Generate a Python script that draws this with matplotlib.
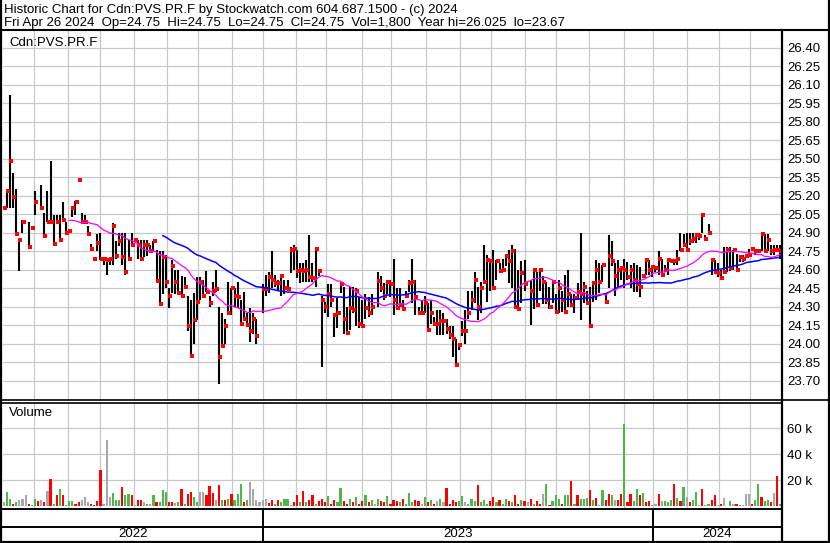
import numpy as np
import pandas as pd
import matplotlib
matplotlib.use("Agg")
import matplotlib.pyplot as plt
from matplotlib.lines import Line2D

plt.rcParams['font.family'] = ['Liberation Sans', 'DejaVu Sans']

# ---------------- data ----------------
HEADER1 = "Historic Chart for Cdn:PVS.PR.F by Stockwatch.com 604.687.1500 - (c) 2024"
HEADER2 = "Fri Apr 26 2024  Op=24.75  Hi=24.75  Lo=24.75  Cl=24.75  Vol=1,800  Year hi=26.025  lo=23.67"
symbol = "Cdn:PVS.PR.F"
volume_title = "Volume"
price_ticks = [23.70, 23.85, 24.00, 24.15, 24.30, 24.45, 24.60, 24.75, 24.90, 25.05,
               25.20, 25.35, 25.50, 25.65, 25.80, 25.95, 26.10, 26.25, 26.40]
vol_ticks = [20, 40, 60]
vol_tick_labels = ["20 k", "40 k", "60 k"]
start_date, end_date = "2022-05-03", "2024-04-26"
holidays = ["2022-05-23", "2022-07-01", "2022-08-01", "2022-09-05", "2022-10-10", "2022-12-26",
            "2022-12-27", "2023-01-02", "2023-02-20", "2023-04-07", "2023-05-22", "2023-07-03",
            "2023-08-07", "2023-09-04", "2023-10-09", "2023-12-25", "2023-12-26", "2024-01-01",
            "2024-02-19", "2024-03-29"]
nan = float('nan')

# one bar per two trading days (high, low, close)
high = [25.12, 25.24, 26.02, 25.38, 25.25, 24.84, 25.00, nan, 24.99, 24.95,
        25.24, nan, 25.29, 25.06, 25.24, 25.48, 25.04, 25.04, 25.04, 25.15,
        24.99, 24.92, 25.12, 25.16, 25.33, 25.06, 25.04, 24.95, 24.81, 24.70,
        24.89, 24.90, 24.69, 24.68, 24.69, 24.98, 24.83, 24.90, 24.90, 24.90,
        24.84, 24.90, 24.85, 24.84, 24.84, 24.84, 24.84, 24.80, 24.83, 24.76,
        24.75, 24.75, 24.72, 24.45, 24.68, 24.60, 24.60, 24.55, 24.54, 24.39,
        24.35, 24.41, 24.54, 24.54, 24.52, 24.59, 24.39, 24.50, 24.60, 24.30,
        24.25, 24.20, 24.50, 24.45, 24.45, 24.50, 24.35, 24.42, 24.25, 24.29,
        24.25, 24.20, nan, 24.48, 24.56, 24.58, 24.75, 24.56, 24.52, 24.55,
        24.52, 24.52, 24.78, 24.80, 24.76, 24.65, 24.65, 24.68, 24.88, 24.65,
        24.77, 24.60, 24.39, 24.34, 24.48, 24.48, 24.25, 24.37, 24.49, 24.46,
        24.30, 24.46, 24.46, 24.45, 24.38, 24.35, 24.40, 24.38, 24.40, nan,
        24.58, 24.55, 24.49, 24.50, 24.52, 24.69, 24.45, 24.45, 24.35, 24.43,
        24.52, 24.69, 24.52, 24.30, 24.35, 24.39, 24.33, 24.35, 24.22, 24.27,
        24.27, 24.25, 24.20, 24.14, 24.14, 24.04, 24.00, 24.18, 24.27, 24.43,
        24.43, 24.58, 24.46, 24.50, 24.80, 24.72, 24.68, 24.76, 24.68, 24.65,
        24.69, 24.71, 24.76, 24.80, 24.77, 24.60, 24.67, 24.68, nan, 24.52,
        24.60, 24.58, 24.60, 24.55, 24.50, 24.46, 24.50, 24.40, 24.52, 24.43,
        24.56, 24.60, 24.40, 24.40, 24.49, 24.90, 24.50, 24.43, 24.46, 24.50,
        24.68, 24.65, 24.64, 24.40, 24.88, 24.83, 24.65, 24.68, 24.62, 24.69,
        24.66, 24.64, 24.65, 24.64, 24.62, 24.56, 24.68, 24.68, 24.62, 24.62,
        24.75, 24.69, 24.64, 24.68, 24.68, 24.69, 24.76, 24.90, 24.89, 24.90,
        24.90, 24.90, 24.90, 24.90, 25.04, 24.88, 24.97, 24.69, 24.68, 24.65,
        24.60, 24.78, 24.78, 24.78, 24.76, 24.73, 24.72, 24.72, 24.72, 24.77,
        24.77, 24.77, 24.77, 24.90, 24.89, 24.89, 24.80, 24.80, 24.80, 24.80]
low = [25.10, 25.10, 25.10, 25.10, 24.89, 24.59, 24.90, nan, 24.78, 24.93,
       25.04, nan, 25.10, 24.87, 24.99, 24.99, 24.81, 24.99, 24.84, 24.99,
       24.90, 24.90, 25.03, 25.04, 25.33, 24.99, 24.99, 24.89, 24.77, 24.69,
       24.75, 24.68, 24.64, 24.56, 24.64, 24.64, 24.69, 24.79, 24.64, 24.56,
       24.69, 24.80, 24.83, 24.69, 24.69, 24.70, 24.71, 24.75, 24.75, 24.50,
       24.32, 24.40, 24.45, 24.29, 24.41, 24.40, 24.41, 24.39, 24.46, 24.10,
       23.90, 24.00, 24.19, 24.35, 24.39, 24.42, 24.30, 24.39, 24.42, 23.67,
       23.98, 24.00, 24.25, 24.23, 24.30, 24.29, 24.16, 24.20, 24.15, 24.01,
       24.08, 24.00, nan, 24.25, 24.39, 24.41, 24.45, 24.46, 24.43, 24.39,
       24.40, 24.44, 24.57, 24.60, 24.53, 24.49, 24.50, 24.50, 24.50, 24.50,
       24.46, 24.55, 23.81, 24.25, 24.22, 24.30, 24.05, 24.13, 24.41, 24.08,
       24.08, 24.11, 24.25, 24.14, 24.13, 24.14, 24.20, 24.22, 24.23, nan,
       24.30, 24.42, 24.35, 24.40, 24.38, 24.23, 24.29, 24.30, 24.28, 24.38,
       24.42, 24.33, 24.23, 24.23, 24.23, 24.25, 24.11, 24.16, 24.15, 24.07,
       24.07, 24.07, 24.08, 24.04, 23.89, 23.83, 23.95, 24.06, 24.00, 24.20,
       24.27, 24.33, 24.19, 24.25, 24.50, 24.34, 24.43, 24.45, 24.52, 24.58,
       24.60, 24.63, 24.49, 24.45, 24.29, 24.27, 24.33, 24.43, nan, 24.15,
       24.28, 24.30, 24.43, 24.32, 24.32, 24.28, 24.33, 24.25, 24.25, 24.26,
       24.26, 24.30, 24.30, 24.25, 24.35, 24.19, 24.33, 24.33, 24.14, 24.34,
       24.35, 24.41, 24.50, 24.34, 24.45, 24.63, 24.39, 24.45, 24.52, 24.45,
       24.52, 24.45, 24.42, 24.42, 24.38, 24.53, 24.56, 24.56, 24.54, 24.58,
       24.56, 24.55, 24.58, 24.56, 24.66, 24.64, 24.64, 24.75, 24.78, 24.76,
       24.80, 24.82, 24.82, 24.84, 24.90, 24.85, 24.88, 24.56, 24.57, 24.54,
       24.52, 24.57, 24.58, 24.59, 24.60, 24.60, 24.66, 24.66, 24.70, 24.70,
       24.76, 24.72, 24.74, 24.75, 24.75, 24.75, 24.72, 24.72, 24.75, 24.69]
close = [25.10, 25.24, 25.48, 25.19, 24.89, 24.84, 24.99, nan, 24.78, 24.94,
         25.15, nan, 25.10, 24.87, 24.99, 24.99, 24.81, 24.99, 24.84, 25.00,
         24.90, 24.91, 25.10, 25.15, 25.33, 24.99, 24.99, 24.89, 24.77, 24.69,
         24.82, 24.69, 24.69, 24.68, 24.69, 24.95, 24.71, 24.83, 24.70, 24.58,
         24.69, 24.80, 24.84, 24.80, 24.69, 24.80, 24.80, 24.75, 24.83, 24.51,
         24.32, 24.70, 24.50, 24.39, 24.63, 24.50, 24.41, 24.39, 24.46, 24.14,
         23.90, 24.19, 24.34, 24.50, 24.39, 24.42, 24.33, 24.43, 24.44, 23.89,
         23.98, 24.14, 24.25, 24.45, 24.39, 24.38, 24.16, 24.20, 24.15, 24.10,
         24.20, 24.06, nan, 24.44, 24.44, 24.54, 24.52, 24.49, 24.49, 24.55,
         24.45, 24.44, 24.76, 24.77, 24.59, 24.60, 24.59, 24.60, 24.54, 24.53,
         24.77, 24.59, 24.35, 24.30, 24.40, 24.35, 24.23, 24.25, 24.48, 24.20,
         24.09, 24.29, 24.27, 24.43, 24.16, 24.14, 24.29, 24.25, 24.30, nan,
         24.51, 24.45, 24.39, 24.50, 24.48, 24.35, 24.29, 24.31, 24.28, 24.39,
         24.49, 24.50, 24.38, 24.25, 24.25, 24.33, 24.11, 24.25, 24.16, 24.16,
         24.18, 24.18, 24.12, 24.07, 24.04, 23.83, 23.99, 24.10, 24.10, 24.25,
         24.35, 24.52, 24.30, 24.45, 24.50, 24.68, 24.67, 24.45, 24.67, 24.59,
         24.60, 24.71, 24.67, 24.75, 24.30, 24.28, 24.57, 24.48, nan, 24.43,
         24.60, 24.31, 24.60, 24.50, 24.35, 24.30, 24.50, 24.26, 24.45, 24.35,
         24.26, 24.40, 24.31, 24.37, 24.42, 24.40, 24.46, 24.33, 24.14, 24.49,
         24.60, 24.50, 24.64, 24.34, 24.71, 24.67, 24.55, 24.60, 24.61, 24.60,
         24.54, 24.60, 24.52, 24.48, 24.46, 24.55, 24.68, 24.60, 24.62, 24.61,
         24.69, 24.56, 24.60, 24.68, 24.67, 24.67, 24.69, 24.76, 24.80, 24.76,
         24.83, 24.85, 24.88, 24.87, 25.04, 24.85, 24.90, 24.68, 24.58, 24.57,
         24.53, 24.58, 24.76, 24.61, 24.76, 24.60, 24.70, 24.69, 24.71, 24.72,
         24.77, 24.75, 24.75, 24.89, 24.75, 24.84, 24.75, 24.76, 24.76, 24.75]
# volume per bar, thousands of shares
volume = [3, 11, 6, 2, 3, 5, 6, 8.5, 1.5, 1, 6, 4, 5, 3, 11.5, 21, 2, 8.5, 13.6, 8.5,
          1, 4, 4, 2, 3, 4.5, 7, 3, 1.5, 1, 4, 27.7, 2, 50.8, 7, 10, 4.6, 4.6, 15, 9,
          9.7, 9, 1, 5, 5, 3.3, 2, 1.5, 8.5, 3.3, 3.3, 12.3, 11, 3, 3.3, 2.5, 3.6, 13.6, 2, 9.7,
          10.8, 7, 3.3, 10.8, 10.8, 8.5, 15.4, 10, 4.6, 16, 5, 4.6, 6, 9.7, 5, 9.7, 17.4, 3.3, 4.6, 18.7,
          13.6, 4.6, 3.3, 4.6, 6, 2.5, 4.6, 2, 4.6, 3.3, 6, 6, 1, 3.3, 8.5, 3.3,
          12, 3, 5, 9, 2, 4, 6, 3, 8, 2, 5, 3, 14, 4, 2, 6, 3, 7, 2, 4,
          9, 3, 5, 2, 6, 4, 3, 8, 2, 5, 4, 3, 6, 2, 10, 3, 5, 4, 2, 7,
          3, 5, 2, 4, 6, 3, 14, 2, 5, 3, 4, 8, 3, 2, 6, 4, 16, 3, 5, 2,
          4, 7, 3, 5, 2, 6, 4, 3, 9, 2, 5, 4, 3, 6, 2, 4,
          2, 9.7, 17.4, 1, 4, 8.5, 6, 2, 8.5, 8.5, 19.5, 2, 8.5, 6, 6, 6.5, 12.3, 4.6, 6.5, 1,
          12.8, 4.6, 9.7, 9, 4.6, 4.6, 9.7, 63.6, 3.3, 9.7, 4, 13.6, 8.5, 10.5, 3, 4, 1, 2, 9.7, 4,
          4, 3.3, 4.6, 17, 6.5, 4, 15, 7, 3.3, 4.6, 11, 1, 13.6, 1, 2, 5, 8.5, 1, 2, 6.5,
          0.5, 4, 2, 1.5, 1, 1, 9.2, 9.2, 2, 5, 17.4, 7, 4, 5, 3.3, 10.5, 23, 1.8]
# volume bar colour (u = up, d = down, n = unchanged);
# '.' = take it from the close-to-close change
vol_dir = ("nuudunnndu" "udndndudud" "uuuddnnndd" "ddnnnuuudu" "udnddnunud"
           "uuuddnudud" "duunndddnd" "ududuuudun" "nnnnnddudu" "uunddu"
           + "." * 76 +
           "dnuduuuduu" "duduuududn" "uddunddudd" "uududdundn" "uuududundu"
           "unduuddndn" "dundunnndu" "uduudndu")

assert len(high) == len(low) == len(close) == len(volume) == len(vol_dir) == 250

# ---------------- figure ----------------
W, H = 830, 543
fig = plt.figure(figsize=(W / 100, H / 100), dpi=100)
fig.patch.set_facecolor('white')
FS = 9.5


def rect(x0, y0, x1, y1):
    return [x0 / W, 1 - y1 / H, (x1 - x0) / W, (y1 - y0) / H]


X0, X1 = 3, 781
axp = fig.add_axes(rect(X0, 31, X1, 400))
axv = fig.add_axes(rect(X0, 402, X1, 508))
axb = fig.add_axes(rect(X0, 508, X1, 541))

days = pd.bdate_range(start_date, end_date)
days = days[~days.isin(pd.to_datetime(holidays))]
N = len(days)
bx = np.arange(len(high)) * 2.0

month_b = [i - 0.5 for i in range(1, N) if days[i].month != days[i - 1].month]
year_b = [i - 0.5 for i in range(1, N) if days[i].year != days[i - 1].year]

GRID = '#c8c8c8'
for ax in (axp, axv, axb):
    ax.set_xlim(-0.5, N - 0.5)
    ax.set_xticks([])
    for s in ax.spines.values():
        s.set_visible(False)
    ax.patch.set_alpha(0)

# price panel
ymin, ymax = 23.543, 26.535
axp.set_ylim(ymin, ymax)
for t in price_ticks:
    axp.axhline(t, color=GRID, lw=0.9, zorder=0)
for m in month_b:
    axp.axvline(m, color=GRID, lw=0.9, zorder=0)
h = np.array(high); l = np.array(low); c = np.array(close)
axp.vlines(bx, l, h, color='black', lw=1.5, zorder=3)
axp.scatter(bx + 0.7, c, marker='s', s=5, color='red', lw=0, zorder=4)

cs = pd.Series(c).dropna()
ma20 = cs.rolling(20).mean()
ma50 = cs.rolling(50).mean()
axp.plot(bx[cs.index], ma50.values, color='#0000ff', lw=1.1, zorder=5)
axp.plot(bx[cs.index], ma20.values, color='#ff00ff', lw=0.9, zorder=6)

axp.yaxis.tick_right()
axp.set_yticks(price_ticks)
axp.set_yticklabels([f"{t:.2f}" for t in price_ticks])
axp.tick_params(axis='y', length=0, pad=4.3, labelsize=FS)
axp.text(6 / (X1 - X0), 1 - (42.5 - 31) / 369, symbol, transform=axp.transAxes,
         fontsize=FS, va='center', ha='left')

# volume panel
vmin, vmax = -1.3, 80.2
axv.set_ylim(vmin, vmax)
for t in vol_ticks:
    axv.axhline(t, color=GRID, lw=0.9, zorder=0)
for m in month_b:
    axv.axvline(m, color=GRID, lw=0.9, zorder=0)
COL = {'u': '#4cb84c', 'd': '#ff0000', 'n': '#a8a8a8'}
cols = []
prev = None
for i, cl in enumerate(close):
    dd = vol_dir[i]
    if dd not in COL:
        if np.isnan(cl) or prev is None or cl == prev:
            dd = 'n'
        elif cl > prev:
            dd = 'u'
        else:
            dd = 'd'
    cols.append(COL[dd])
    if not np.isnan(cl):
        prev = cl
axv.bar(bx, volume, width=1.4, bottom=0, color=cols, lw=0, zorder=3)
axv.yaxis.tick_right()
axv.set_yticks(vol_ticks)
axv.set_yticklabels(vol_tick_labels)
axv.tick_params(axis='y', length=0, pad=4.3, labelsize=FS)
axv.text(6 / (X1 - X0), 1 - (413 - 402) / 106, volume_title, transform=axv.transAxes,
         fontsize=FS, va='center', ha='left')

# bottom year strip
axb.set_ylim(0, 1)
axb.set_yticks([])
edges = [-0.5] + year_b + [N - 0.5]
for i in range(len(edges) - 1):
    yr = days[int(edges[i] + 0.5)].year
    axb.text((edges[i] + edges[i + 1]) / 2, 1 - (534 - 508) / 33, str(yr),
             ha='center', va='center', fontsize=FS)
for yb in year_b:
    axb.axvline(yb, color='black', lw=1.4)


def fline(xs, ys, lw=1.4):
    fig.add_artist(Line2D([x / W for x in xs], [1 - y / H for y in ys],
                          color='black', lw=lw, transform=fig.transFigure))


fline([0, 830], [30, 30], 1.5)          # header bottom
fline([0, 830], [400, 400], 1.2)        # price bottom
fline([0, 782], [402.5, 402.5], 1.2)    # volume top
fline([0, 782], [508.5, 508.5], 1.4)    # volume bottom
fline([0, 782], [526.5, 526.5], 1.4)    # strip separator
fline([782, 782], [30, 543], 1.6)       # plot right border
fline([1, 1], [0, 543], 1.6)            # outer left
fline([828.5, 828.5], [0, 543], 1.6)    # outer right
fline([0, 830], [541.5, 541.5], 1.6)    # outer bottom

fig.text(4 / W, 1 - 10 / H, HEADER1, fontsize=FS, va='center', ha='left')
fig.text(4 / W, 1 - 23 / H, HEADER2, fontsize=FS, va='center', ha='left')

fig.savefig('out.png', dpi=100)
